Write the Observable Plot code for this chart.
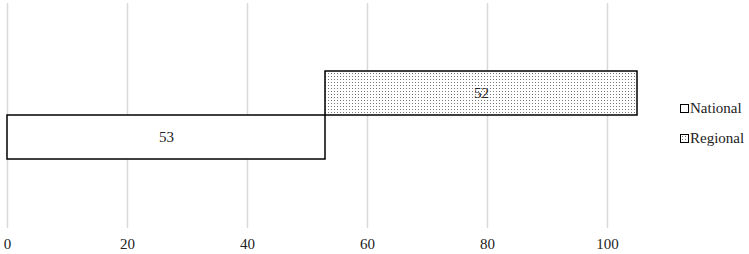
<!DOCTYPE html>
<html>
<head>
<meta charset="utf-8">
<script src="https://cdn.jsdelivr.net/npm/d3@7"></script>
<script src="https://cdn.jsdelivr.net/npm/@observablehq/plot@0.6"></script>
<style>
  body { margin: 0; background: #fff; }
  #wrap { position: relative; width: 749px; height: 254px; font-family: "Liberation Serif", "Times New Roman", Tinos, "DejaVu Serif", serif; }
  #wrap svg, #wrap svg text { font-family: "Liberation Serif", "Times New Roman", Tinos, "DejaVu Serif", serif !important; }
  .legend { position: absolute; left: 680px; font-size: 15px; color: #222; display: flex; align-items: center; }
  .sw { width: 7px; height: 7px; border: 1.5px solid #000; margin-right: 1px; background: #fff; }
  .sw.dots { background-image: radial-gradient(#777 0.8px, transparent 0.9px); background-size: 3px 3px; }
</style>
</head>
<body>
<div id="wrap"></div>
<script>
const categories = ["National", "Regional"];
const values = [53, 52];
const xTicks = [0, 20, 40, 60, 80, 100];

const ends = Array.from(d3.cumsum(values));
const data = categories.map((c, i) => ({category: c, value: values[i], start: ends[i] - values[i], end: ends[i]}));

const chart = Plot.plot({
  width: 749,
  height: 254,
  marginTop: 3,
  marginBottom: 26,
  marginLeft: 7,
  marginRight: 142,
  style: {fontSize: "15px", color: "#222", background: "#fff"},
  x: {domain: [0, 100], range: [7, 607], ticks: xTicks, tickSize: 0, tickPadding: 10, label: null, clamp: false},
  y: {domain: ["Regional", "National"], range: [70, 159], padding: 0, axis: null},
  marks: [
    Plot.ruleX(xTicks, {stroke: "#d9d9d9", strokeWidth: 1.5}),
    Plot.barX(data, {
      y: "category", x1: "start", x2: "end",
      fill: d => d.category === "Regional" ? "url(#dots)" : "#fff",
      stroke: "#000", strokeWidth: 1.5
    }),
    Plot.text(data, {
      y: "category", x: d => (d.start + d.end) / 2, text: d => String(d.value),
      fill: "#222", fontSize: 15
    })
  ]
});

const ns = "http://www.w3.org/2000/svg";
const defs = document.createElementNS(ns, "defs");
defs.innerHTML = '<pattern id="dots" width="3" height="3" patternUnits="userSpaceOnUse"><rect width="3" height="3" fill="#fff"/><rect x="1" y="1" width="1" height="1" fill="#777"/></pattern>';
chart.insertBefore(defs, chart.firstChild);

const wrap = document.getElementById("wrap");
wrap.appendChild(chart);
chart.style.position = "absolute";
chart.style.left = "0";
chart.style.top = "0";

categories.forEach((c, i) => {
  const div = document.createElement("div");
  div.className = "legend";
  div.style.top = (100 + i * 30) + "px";
  const sw = document.createElement("span");
  sw.className = "sw" + (c === "Regional" ? " dots" : "");
  div.appendChild(sw);
  div.appendChild(document.createTextNode(c));
  wrap.appendChild(div);
});
</script>
</body>
</html>
